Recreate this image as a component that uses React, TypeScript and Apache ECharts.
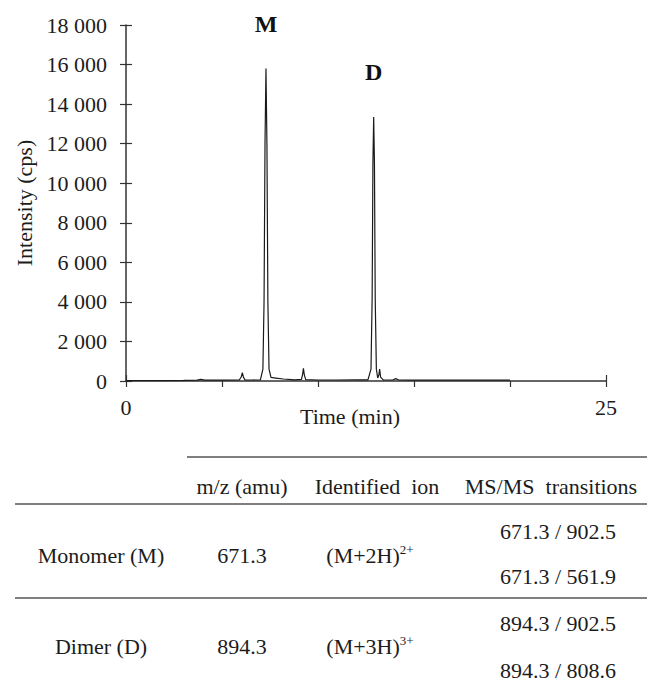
import React, { useEffect, useRef } from 'react';
import * as echarts from 'echarts';

// Chromatogram trace (time in min, intensity in cps)
const timeMin = [
  0, 1, 2, 3, 3.7, 3.9, 4.1, 5.0, 5.9, 6.0, 6.06, 6.12, 6.2, 6.6, 7.0,
  7.13, 7.19, 7.24, 7.29, 7.34, 7.39, 7.45, 7.55, 7.8, 8.2, 8.8,
  9.14, 9.2, 9.24, 9.29, 9.36, 10, 11, 12, 12.6,
  12.76, 12.82, 12.86, 12.9, 12.94, 12.98, 13.04, 13.11, 13.17, 13.21, 13.26, 13.4,
  13.9, 14.05, 14.2, 15, 16, 17, 18, 19, 20,
];
const intensityCps = [
  20, 25, 20, 30, 40, 80, 40, 40, 50, 200, 420, 180, 60, 50, 60,
  600, 4000, 12000, 15800, 12000, 4000, 600, 180, 150, 100, 60,
  80, 350, 640, 300, 70, 50, 50, 60, 60,
  600, 4200, 11000, 13350, 11000, 4200, 600, 150, 300, 600, 200, 60,
  50, 120, 50, 40, 50, 40, 50, 45, 40,
];

// Peak annotations
const peakNames = ['M', 'D'];
const peakTimes = [7.29, 12.9];
const peakHeights = [15800, 13350];

// Axes
const yTicks = [0, 2000, 4000, 6000, 8000, 10000, 12000, 14000, 16000, 18000];
const xLabelValues = [0, 25];

// Table
const tableHeaders = ['m/z (amu)', 'Identified\u00a0\u00a0ion', 'MS/MS\u00a0\u00a0transitions'];
const compoundNames = ['Monomer (M)', 'Dimer (D)'];
const mzValues = ['671.3', '894.3'];
const ionBase = ['(M+2H)', '(M+3H)'];
const ionCharge = ['2+', '3+'];
const transitions = [
  ['671.3 / 902.5', '671.3 / 561.9'],
  ['894.3 / 902.5', '894.3 / 808.6'],
];

const FONT = '"Liberation Serif", "Times New Roman", serif';
const INK = '#1c1c1c';

function fmtThousands(v: number): string {
  return String(v).replace(/\B(?=(\d{3})+(?!\d))/g, ' ');
}

function txt(x: number, y: number, text: string, extra: any = {}) {
  return {
    type: 'text',
    x,
    y,
    silent: true,
    style: {
      text,
      fill: INK,
      fontFamily: FONT,
      fontSize: 22,
      align: 'center',
      verticalAlign: 'middle',
      textAlign: 'center',
      textVerticalAlign: 'middle',
      ...extra,
    },
  };
}

function hline(x1: number, x2: number, y: number) {
  return {
    type: 'line',
    silent: true,
    shape: { x1, y1: y, x2, y2: y },
    style: { stroke: '#555', lineWidth: 1.6 },
  };
}

export default function App() {
  const ref = useRef<HTMLDivElement>(null);

  useEffect(() => {
    if (!ref.current) return;
    const chart = echarts.init(ref.current, undefined, { renderer: 'svg' });

    const data = timeMin.map((t, i) => [t, intensityCps[i]]);

    const headerX = [242, 377, 551];
    const colX = [101, 242, 370, 558];
    const headerY = 486;
    const rowCenters = [555, 646];
    const subOffsets = [[-24, 21], [-23, 24]];

    const graphics: any[] = [
      hline(187, 647, 457),
      hline(15, 647, 504),
      hline(15, 647, 598),
      txt(350, 416, 'Time (min)'),
    ];
    tableHeaders.forEach((h, i) => graphics.push(txt(headerX[i], headerY, h)));
    compoundNames.forEach((name, r) => {
      const cy = rowCenters[r];
      graphics.push(txt(colX[0], cy, name));
      graphics.push(txt(colX[1], cy, mzValues[r]));
      graphics.push(
        txt(colX[2], cy, `{b|${ionBase[r]}}{s|${ionCharge[r]}}`, {
          rich: {
            b: { fontFamily: FONT, fontSize: 22, lineHeight: 24, fill: INK },
            s: { fontFamily: FONT, fontSize: 13, lineHeight: 13, fill: INK, verticalAlign: 'top' },
          },
        })
      );
      transitions[r].forEach((tr, k) => {
        graphics.push(txt(colX[3], cy + subOffsets[r][k], tr));
      });
    });

    chart.setOption({
      animation: false,
      backgroundColor: '#fff',
      grid: { left: 126, right: 41, top: 25, bottom: 303, containLabel: false },
      xAxis: [
        {
          type: 'value',
          min: 0,
          max: 25,
          interval: 5,
          position: 'bottom',
          axisLine: { show: true, lineStyle: { color: '#333', width: 1.5 } },
          axisTick: { show: true, inside: false, length: 6, lineStyle: { color: '#333', width: 1.2 } },
          axisLabel: {
            show: true,
            margin: 15,
            fontFamily: FONT,
            fontSize: 22,
            color: INK,
            formatter: (v: number) => (xLabelValues.includes(v) ? String(v) : ''),
          },
          splitLine: { show: false },
        },
        {
          type: 'value',
          min: 0,
          max: 25,
          interval: 25,
          position: 'bottom',
          axisLine: { show: false },
          axisTick: { show: true, inside: true, length: 6, lineStyle: { color: '#333', width: 1.2 } },
          axisLabel: { show: false },
          splitLine: { show: false },
        },
      ],
      yAxis: [
        {
          type: 'value',
          min: 0,
          max: 18000,
          interval: 2000,
          position: 'left',
          name: 'Intensity (cps)',
          nameLocation: 'middle',
          nameRotate: 90,
          nameGap: 86,
          nameTextStyle: { fontFamily: FONT, fontSize: 22, color: INK },
          axisLine: { show: true, lineStyle: { color: '#333', width: 1.5 } },
          axisTick: { show: true, inside: false, length: 6, lineStyle: { color: '#333', width: 1.2 } },
          axisLabel: {
            margin: 19,
            fontFamily: FONT,
            fontSize: 22,
            color: INK,
            formatter: (v: number) => (yTicks.includes(v) ? fmtThousands(v) : ''),
          },
          splitLine: { show: false },
        },
        {
          type: 'value',
          min: 0,
          max: 18000,
          interval: 2000,
          position: 'left',
          axisLine: { show: false },
          axisTick: { show: true, inside: true, length: 6, lineStyle: { color: '#333', width: 1.2 } },
          axisLabel: { show: false },
          splitLine: { show: false },
        },
      ],
      series: [
        {
          type: 'line',
          xAxisIndex: 0,
          yAxisIndex: 0,
          data,
          showSymbol: false,
          symbol: 'none',
          lineStyle: { color: '#1a1a1a', width: 1.2 },
          markPoint: {
            symbol: 'circle',
            symbolSize: 0,
            itemStyle: { color: 'transparent' },
            label: {
              show: true,
              position: 'inside',
              offset: [0, -45],
              formatter: '{b}',
              fontFamily: FONT,
              fontSize: 24,
              fontWeight: 'bold',
              color: '#111',
            },
            data: peakNames.map((n, i) => ({ name: n, coord: [peakTimes[i], peakHeights[i]] })),
          },
        },
      ],
      graphic: graphics,
    });

    return () => chart.dispose();
  }, []);

  return (
    <div
      ref={ref}
      style={{ position: 'fixed', left: 0, top: 0, width: 647, height: 684, background: '#fff' }}
    />
  );
}
